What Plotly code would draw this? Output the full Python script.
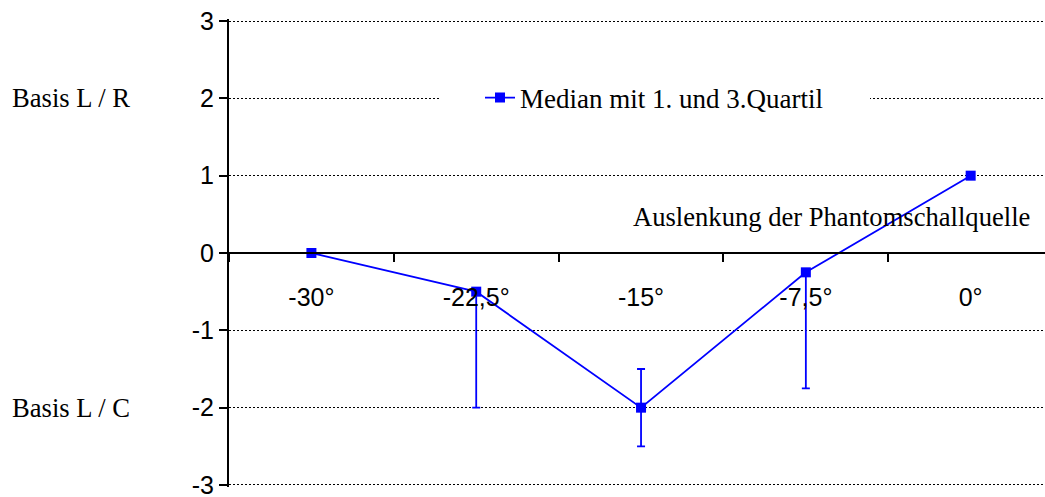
import plotly.graph_objects as go

# Deflection angles of the phantom source and the listening-test results
angles = ["-30°", "-22,5°", "-15°", "-7,5°", "0°"]
median = [0, -0.5, -2, -0.25, 1]
q1 = [0, -2, -2.5, -1.75, 1]
q3 = [0, -0.5, -1.5, -0.25, 1]
y_ticks = [-3, -2, -1, 0, 1, 2, 3]
y_tick_text = [str(v) for v in y_ticks]

err_plus = [b - m for b, m in zip(q3, median)]
err_minus = [m - a for m, a in zip(median, q1)]

BLUE = "#0000FF"
SANS = "Liberation Sans, Arial, sans-serif"
SERIF = "Liberation Serif, Times New Roman, serif"

# plot area in pixels (a little padding so the end grid lines are kept)
PAD = 0.026
L, R, T, B = 229, 1045, 19, 487
PW, PH = R - L, B - T
Y_LO, Y_HI = -3 - PAD, 3 + PAD


def ypix_to_paper(py):
    return (B - py) / PH


fig = go.Figure()
fig.add_trace(go.Scatter(
    x=angles,
    y=median,
    mode="lines+markers",
    name="Median mit 1. und 3.Quartil",
    line=dict(color=BLUE, width=1.8),
    marker=dict(symbol="square", size=10, color=BLUE),
    error_y=dict(type="data", symmetric=False, array=err_plus,
                 arrayminus=err_minus, color=BLUE, thickness=1.8, width=4),
))

fig.update_layout(
    width=1045,
    height=497,
    margin=dict(l=L, r=1045 - R, t=T, b=497 - B, autoexpand=False),
    paper_bgcolor="white",
    plot_bgcolor="white",
    font=dict(family=SANS, size=25, color="black"),
    showlegend=True,
    legend=dict(
        orientation="h",
        entrywidth=345,
        x=(440 - L) / PW, y=ypix_to_paper(98),
        xanchor="left", yanchor="middle",
        bgcolor="white", borderwidth=0,
        indentation=40,
        font=dict(family=SERIF, size=27, color="black"),
    ),
)

fig.update_xaxes(
    type="category",
    range=[-0.5, 4.451],
    tickson="boundaries",
    ticks="outside",
    ticklen=8,
    tickwidth=1.5,
    tickcolor="black",
    tickangle=0,
    showline=True,
    linecolor="black",
    linewidth=2,
    showgrid=False,
    anchor="free",
    position=0.5,
    ticklabelstandoff=22,
    tickfont=dict(family=SANS, size=25),
)

fig.update_yaxes(
    range=[Y_LO, Y_HI],
    tickvals=y_ticks,
    ticktext=y_tick_text,
    ticklabeloverflow="allow",
    ticks="outside",
    ticklen=8,
    tickwidth=1.5,
    tickcolor="black",
    showline=True,
    linecolor="black",
    linewidth=2,
    showgrid=True,
    gridcolor="black",
    gridwidth=1,
    griddash="2px,2px",
    zeroline=False,
    tickfont=dict(family=SANS, size=25),
)

serif_font = dict(family=SERIF, size=26.6, color="black")
fig.add_annotation(text="Basis L / R", xref="paper", yref="y", x=(10 - L) / PW,
                   y=2, xanchor="left", yanchor="middle", showarrow=False,
                   font=serif_font)
fig.add_annotation(text="Basis L / C", xref="paper", yref="y", x=(10 - L) / PW,
                   y=-2, xanchor="left", yanchor="middle", showarrow=False,
                   font=serif_font)
fig.add_annotation(text="Auslenkung der Phantomschallquelle", xref="paper",
                   yref="y", x=(631 - L) / PW, y=0.47, xanchor="left",
                   yanchor="middle", showarrow=False, font=serif_font)

fig.write_html("out.html")
